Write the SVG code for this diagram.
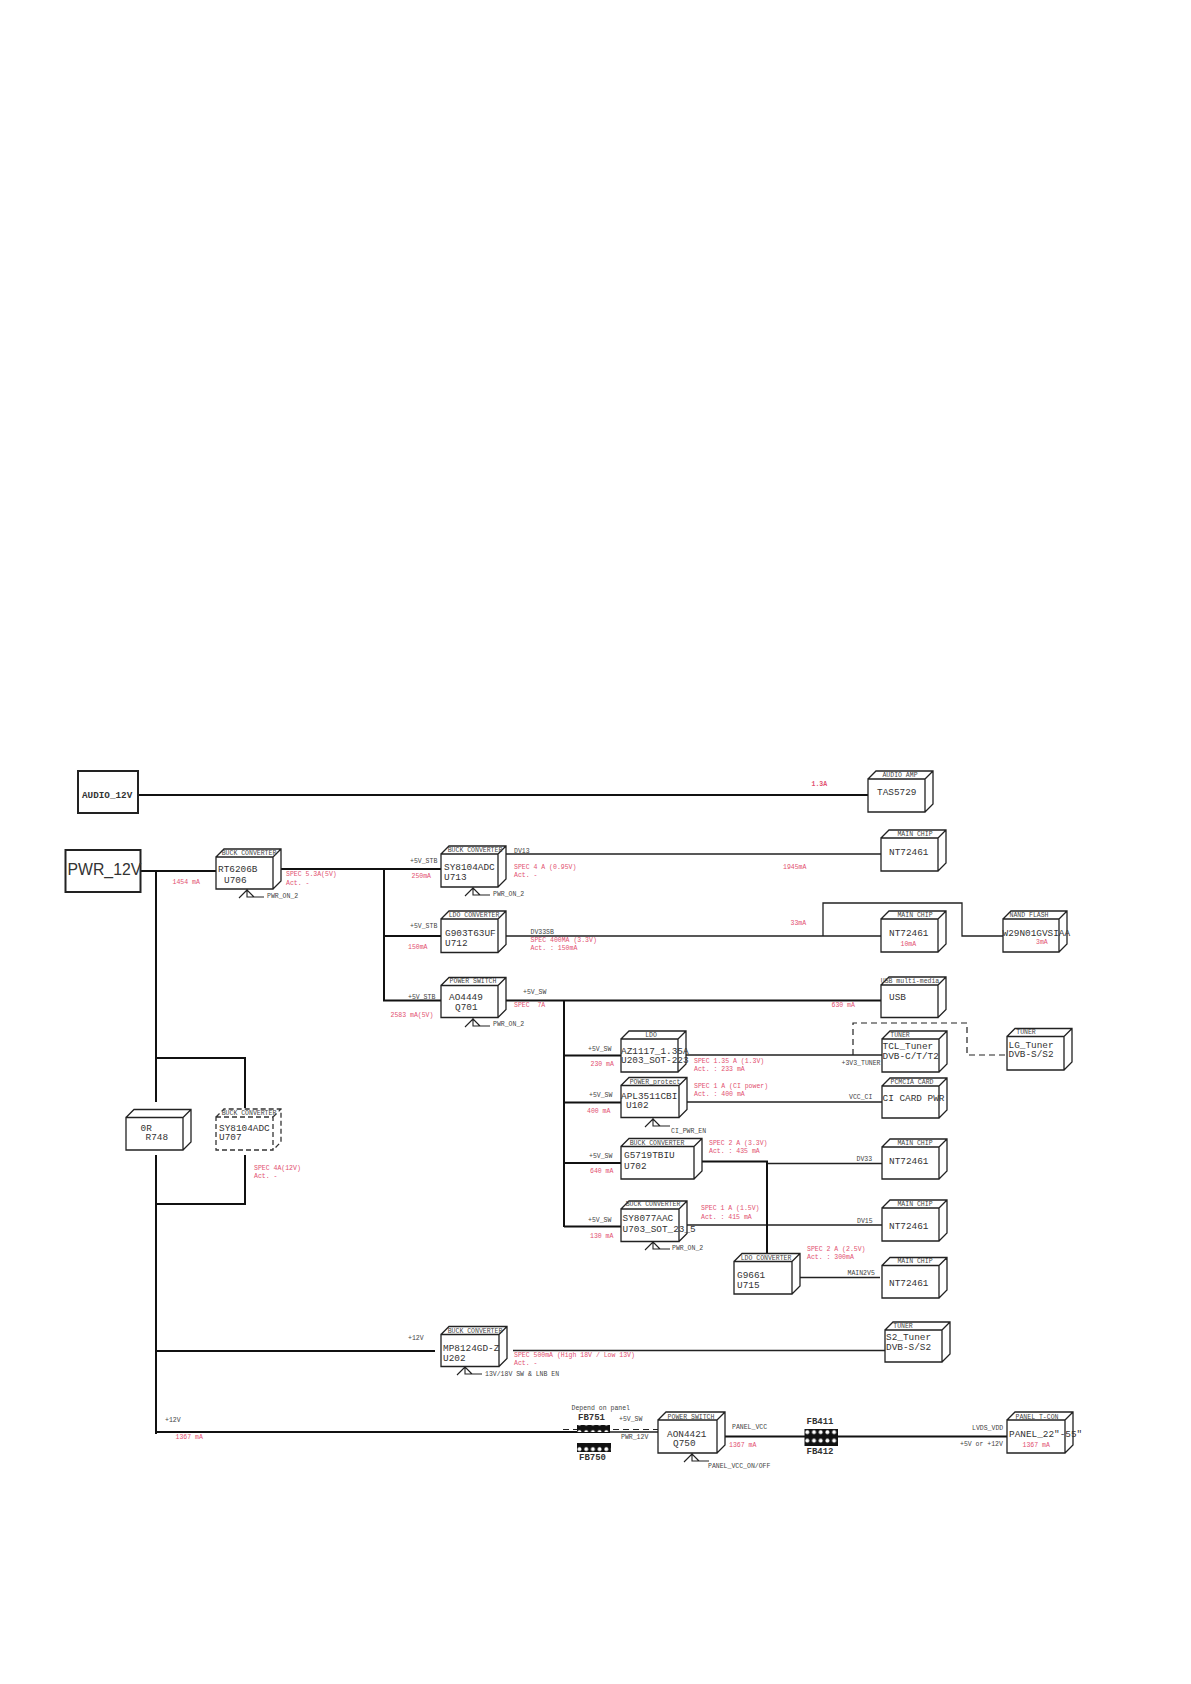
<svg xmlns="http://www.w3.org/2000/svg" width="1191" height="1684" viewBox="0 0 1191 1684">
<style>
text{font-family:"Liberation Mono","DejaVu Sans Mono",monospace}
.t{font-size:9.4px;fill:#333}
.s{font-size:6.5px;fill:#444}
.c{font-size:6.5px;fill:#444;text-anchor:middle}
.r{font-size:6.5px;fill:#e2506f}
.fb{font-size:9px;font-weight:bold;fill:#333}
.box{fill:#fff;stroke:#222;stroke-width:1.3}
.dash{fill:#fff;stroke:#333;stroke-width:1.3;stroke-dasharray:5 3}
.src{fill:#fff;stroke:#222;stroke-width:2}
.w1{fill:none;stroke:#222;stroke-width:1.3}
.w2{fill:none;stroke:#111;stroke-width:2}
.wd{fill:none;stroke:#222;stroke-width:1.2;stroke-dasharray:6 4}
.pin{fill:none;stroke:#222;stroke-width:1.1}
</style>
<defs>
<path id="pin" class="pin" d="M-8 8L0 0M0 -1V7H17M0 0L7 7"/>
<pattern id="beads" width="6.7" height="8.5" patternUnits="userSpaceOnUse"><rect width="6.7" height="8.5" fill="#111"/><circle cx="3.3" cy="4.2" r="2" fill="#fff"/></pattern>
</defs>
<rect width="1191" height="1684" fill="#fff"/>
<g id="connectors">
<path class="w2" d="M138 795H868"/>
<path class="w2" d="M140 871H216M281 869H441M384 869V1000.5H441M384 936H441"/>
<path class="w2" d="M156 871V1102M156 1155V1434M156 1058H245V1108M245 1155V1204H156"/>
<path class="w1" d="M506 854H881M506 936H881M823 936V903H962V936H1003"/>
<path class="w2" d="M506 1000.5H881M564 1000.5V1227M564 1055.5H621M564 1102.5H621M564 1163H621M564 1226.5H621"/>
<path class="w1" d="M686 1055H882M687 1102H882M767 1163.5H882M687 1225H882M800 1277.5H880"/>
<path class="wd" d="M853 1055V1023H967V1055H1007"/>
<path class="w2" d="M702 1161.5H767V1254"/>
<path class="w2" d="M156 1351H435M156 1432H610"/>
<path class="w1" d="M513 1350.5H885M610 1432H658"/>
<path class="wd" d="M563 1429.5H658"/>
<path class="w2" d="M725 1436.5H1008"/>
</g>
<g id="audio-12v"><rect class="src" x="78" y="771" width="60" height="42"/><text x="82" y="798" class="fb" style="font-size:9.3px">AUDIO_12V</text></g>
<g id="pwr-12v"><rect class="src" x="65.500" y="850" width="75" height="42"/><text x="67.500" y="875" style="font-family:'Liberation Sans',Arial,sans-serif;font-size:15.800px;fill:#333">PWR_12V</text></g>
<g id="tas5729"><path class="box" d="M868 779h57v33h-57zl8 -8h57v33l-8 8m0 -33l8 -8"/><text class="c" x="900" y="777">AUDIO AMP</text><text class="t" x="877" y="795">TAS5729</text></g>
<g id="u706"><path class="box" d="M216 857h57v32h-57zl8 -8h57v32l-8 8m0 -32l8 -8"/><text class="c" x="249" y="855">BUCK CONVERTER</text><text class="t" x="218" y="872">RT6206B</text><text class="t" x="224" y="883">U706</text><use href="#pin" x="247" y="890"/><text class="s" x="267" y="898">PWR_ON_2</text></g>
<g id="u713"><path class="box" d="M441 854h57v33h-57zl8 -8h57v33l-8 8m0 -33l8 -8"/><text class="c" x="475" y="852">BUCK CONVERTER</text><text class="t" x="444" y="870">SY8104ADC</text><text class="t" x="444" y="879.500">U713</text><use href="#pin" x="473" y="888"/><text class="s" x="493" y="896">PWR_ON_2</text></g>
<g id="u712"><path class="box" d="M441 919h57v33.500h-57zl8 -8h57v33.500l-8 8m0 -33.500l8 -8"/><text class="c" x="474" y="917">LDO CONVERTER</text><text class="t" x="445" y="936">G903T63UF</text><text class="t" x="445" y="946">U712</text></g>
<g id="q701"><path class="box" d="M441 985.500h57v32h-57zl8 -8h57v32l-8 8m0 -32l8 -8"/><text class="c" x="473" y="983">POWER SWITCH</text><text class="t" x="449" y="1000">AO4449</text><text class="t" x="455" y="1009.500">Q701</text><use href="#pin" x="473" y="1019"/><text class="s" x="493" y="1026">PWR_ON_2</text></g>
<g id="nt-dv13"><path class="box" d="M881 838h57v33h-57zl8 -8h57v33l-8 8m0 -33l8 -8"/><text class="c" x="915" y="836">MAIN CHIP</text><text class="t" x="889" y="854.500">NT72461</text></g>
<g id="nt-dv33sb"><path class="box" d="M881 919h57v33h-57zl8 -8h57v33l-8 8m0 -33l8 -8"/><text class="c" x="915" y="917">MAIN CHIP</text><text class="t" x="889" y="936">NT72461</text><text class="r" x="900.500" y="946">10mA</text></g>
<g id="nand"><path class="box" d="M1003 919h56v33h-56zl8 -8h56v33l-8 8m0 -33l8 -8"/><text class="c" x="1029" y="917">NAND FLASH</text><text class="t" x="1002.500" y="936">W29N01GVSIAA</text><text class="r" x="1036" y="944">3mA</text></g>
<g id="usb"><path class="box" d="M881 985h57v32.500h-57zl8 -8h57v32.500l-8 8m0 -32.500l8 -8"/><text class="c" x="910" y="983">USB multi-media</text><text class="t" x="889" y="1000">USB</text></g>
<g id="u203"><path class="box" d="M621 1039h57v33h-57zl8 -8h57v33l-8 8m0 -33l8 -8"/><text class="c" x="651" y="1037">LDO</text><text class="t" x="621" y="1053.500">AZ1117_1.35A</text><text class="t" x="621" y="1062.500">U203_SOT-223</text></g>
<g id="tcl-tuner"><path class="box" d="M882 1039h57v33h-57zl8 -8h57v33l-8 8m0 -33l8 -8"/><text class="c" x="900" y="1037">TUNER</text><text class="t" x="882.500" y="1049">TCL_Tuner</text><text class="t" x="882.500" y="1058.500">DVB-C/T/T2</text></g>
<g id="lg-tuner"><path class="box" d="M1007 1036.500h57v33.500h-57zl8 -8h57v33.500l-8 8m0 -33.500l8 -8"/><text class="c" x="1026" y="1034">TUNER</text><text class="t" x="1008.500" y="1047.500">LG_Tuner</text><text class="t" x="1008.500" y="1056.500">DVB-S/S2</text></g>
<g id="u102"><path class="box" d="M621 1085.500h58v32h-58zl8 -8h58v32l-8 8m0 -32l8 -8"/><text class="c" x="655" y="1083.500">POWER_protect</text><text class="t" x="621" y="1099">APL3511CBI</text><text class="t" x="626" y="1108">U102</text><use href="#pin" x="653" y="1119"/><text class="s" x="671" y="1133">CI_PWR_EN</text></g>
<g id="ci-card"><path class="box" d="M882 1086h57v32h-57zl8 -8h57v32l-8 8m0 -32l8 -8"/><text class="c" x="912" y="1083.500">PCMCIA CARD</text><text class="t" x="882.500" y="1101">CI CARD PWR</text></g>
<g id="u702"><path class="box" d="M621 1146.500h73v32.500h-73zl8 -8h73v32.500l-8 8m0 -32.500l8 -8"/><text class="c" x="657" y="1145">BUCK CONVERTER</text><text class="t" x="624" y="1158">G5719TBIU</text><text class="t" x="624" y="1168.500">U702</text></g>
<g id="nt-dv33"><path class="box" d="M882 1147h57v32h-57zl8 -8h57v32l-8 8m0 -32l8 -8"/><text class="c" x="915" y="1145">MAIN CHIP</text><text class="t" x="889" y="1164">NT72461</text></g>
<g id="u703"><path class="box" d="M621 1209h58v32.500h-58zl8 -8h58v32.500l-8 8m0 -32.500l8 -8"/><text class="c" x="653" y="1206">BUCK CONVERTER</text><text class="t" x="622.500" y="1220.500">SY8077AAC</text><text class="t" x="622.500" y="1231.500">U703_SOT_23_5</text><use href="#pin" x="653" y="1242"/><text class="s" x="672" y="1250">PWR_ON_2</text></g>
<g id="nt-dv15"><path class="box" d="M882 1208h57v33h-57zl8 -8h57v33l-8 8m0 -33l8 -8"/><text class="c" x="915" y="1206">MAIN CHIP</text><text class="t" x="889" y="1229">NT72461</text></g>
<g id="u715"><path class="box" d="M734 1261.500h58v32.500h-58zl8 -8h58v32.500l-8 8m0 -32.500l8 -8"/><text class="c" x="766" y="1259.500">LDO CONVERTER</text><text class="t" x="737" y="1278">G9661</text><text class="t" x="737" y="1288">U715</text></g>
<g id="nt-main2v5"><path class="box" d="M882 1265.500h57v32.500h-57zl8 -8h57v32.500l-8 8m0 -32.500l8 -8"/><text class="c" x="915" y="1263">MAIN CHIP</text><text class="t" x="889" y="1286">NT72461</text></g>
<g id="r748"><path class="box" d="M126 1117.500h57v32.500h-57zl8 -8h57v32.500l-8 8m0 -32.500l8 -8"/><text class="t" x="140.500" y="1130.500">0R</text><text class="t" x="145.500" y="1140">R748</text></g>
<g id="u707"><path class="dash" d="M216 1117h57v33h-57zl8 -8h57v33l-8 8m0 -33l8 -8"/><text class="c" x="249" y="1115">BUCK CONVERTER</text><text class="t" x="219" y="1130.500">SY8104ADC</text><text class="t" x="219" y="1140">U707</text></g>
<g id="u202"><path class="box" d="M441 1334.500h58v32h-58zl8 -8h58v32l-8 8m0 -32l8 -8"/><text class="c" x="475" y="1332.500">BUCK CONVERTER</text><text class="t" x="443" y="1351">MP8124GD-Z</text><text class="t" x="443" y="1360.500">U202</text><use href="#pin" x="465" y="1367"/><text class="s" x="485" y="1376">13V/18V SW &amp; LNB EN</text></g>
<g id="s2-tuner"><path class="box" d="M885 1330h57v32h-57zl8 -8h57v32l-8 8m0 -32l8 -8"/><text class="c" x="903" y="1327.500">TUNER</text><text class="t" x="886" y="1339.500">S2_Tuner</text><text class="t" x="886" y="1350">DVB-S/S2</text></g>
<g id="q750"><path class="box" d="M658 1420h59v33h-59zl8 -8h59v33l-8 8m0 -33l8 -8"/><text class="c" x="691" y="1418.500">POWER SWITCH</text><text class="t" x="667" y="1436.500">AON4421</text><text class="t" x="673" y="1446">Q750</text><use href="#pin" x="692" y="1454"/><text class="s" x="708" y="1468">PANEL_VCC_ON/OFF</text></g>
<g id="panel"><path class="box" d="M1007 1420h58v33h-58zl8 -8h58v33l-8 8m0 -33l8 -8"/><text class="c" x="1037" y="1418.500">PANEL T-CON</text><text class="t" x="1009" y="1436.500">PANEL_22"-55"</text><text class="r" x="1022.500" y="1447">1367 mA</text></g>
<g id="fb751"><rect x="577" y="1425" width="33" height="7" fill="url(#beads)"/><text class="fb" x="578" y="1420">FB751</text></g>
<g id="fb750"><rect x="577" y="1443" width="34" height="9" fill="url(#beads)"/><text class="fb" x="579" y="1460">FB750</text></g>
<g id="fb411"><rect x="804.500" y="1429" width="33.500" height="17" fill="url(#beads)"/><text class="fb" x="806.500" y="1424">FB411</text><text class="fb" x="806.500" y="1454">FB412</text></g>
<g id="labels">
<text class="r" x="172.500" y="884">1454 mA</text>
<text class="r" x="286" y="876">SPEC 5.3A(5V)</text><text class="r" x="286" y="885">Act. -</text>
<text class="s" x="410" y="863">+5V_STB</text><text class="r" x="411.500" y="878">250mA</text>
<text class="s" x="410" y="928">+5V_STB</text><text class="r" x="408" y="949">150mA</text>
<text class="s" x="408" y="999">+5V_STB</text><text class="r" x="390.500" y="1017">2583 mA(5V)</text>
<text class="s" x="514" y="853">DV13</text><text class="r" x="514" y="869">SPEC 4 A (0.95V)</text><text class="r" x="514" y="877">Act. -</text>
<text class="r" x="783" y="869">1945mA</text>
<text class="r" x="811.500" y="786" style="font-weight:bold">1.3A</text>
<text class="s" x="530.500" y="934">DV33SB</text><text class="r" x="530.500" y="942">SPEC 400MA (3.3V)</text><text class="r" x="530.500" y="949.500">Act. : 150mA</text>
<text class="r" x="790.500" y="925">33mA</text>
<text class="s" x="523" y="994">+5V_SW</text><text class="r" x="514" y="1007" xml:space="preserve">SPEC  7A</text>
<text class="r" x="831.500" y="1007">630 mA</text>
<text class="s" x="841.500" y="1065">+3V3_TUNER</text>
<text class="s" x="588" y="1051">+5V_SW</text><text class="r" x="590.500" y="1066">230 mA</text>
<text class="r" x="694" y="1063">SPEC 1.35 A (1.3V)</text><text class="r" x="694" y="1071">Act. : 233 mA</text>
<text class="s" x="589" y="1097">+5V_SW</text><text class="r" x="587" y="1112.500">400 mA</text>
<text class="r" x="694" y="1088">SPEC 1 A (CI power)</text><text class="r" x="694" y="1096">Act. : 400 mA</text>
<text class="s" x="849" y="1099">VCC_CI</text>
<text class="s" x="589" y="1157.500">+5V_SW</text><text class="r" x="590" y="1173">640 mA</text>
<text class="r" x="709" y="1145">SPEC 2 A (3.3V)</text><text class="r" x="709" y="1153">Act. : 435 mA</text>
<text class="s" x="856.500" y="1161">DV33</text>
<text class="s" x="588" y="1221.500">+5V_SW</text><text class="r" x="590" y="1237.500">130 mA</text>
<text class="r" x="701" y="1210">SPEC 1 A (1.5V)</text><text class="r" x="701" y="1218.500">Act. : 415 mA</text>
<text class="s" x="857" y="1222.500">DV15</text>
<text class="r" x="807" y="1251">SPEC 2 A (2.5V)</text><text class="r" x="807" y="1259">Act. : 300mA</text>
<text class="s" x="847.500" y="1275">MAIN2V5</text>
<text class="r" x="254" y="1170">SPEC 4A(12V)</text><text class="r" x="254" y="1177.500">Act. -</text>
<text class="s" x="408" y="1340">+12V</text>
<text class="r" x="514" y="1357">SPEC 500mA (High 18V / Low 13V)</text><text class="r" x="514" y="1364.500">Act. -</text>
<text class="s" x="165" y="1422">+12V</text><text class="r" x="175.500" y="1439">1367 mA</text>
<text class="s" x="571.500" y="1410">Depend on panel</text>
<text class="s" x="619" y="1421">+5V_SW</text><text class="s" x="621" y="1439">PWR_12V</text>
<text class="s" x="732" y="1429">PANEL_VCC</text><text class="r" x="729" y="1447">1367 mA</text>
<text class="s" x="972" y="1430">LVDS_VDD</text><text class="s" x="960" y="1446">+5V or +12V</text>
</g>
</svg>
